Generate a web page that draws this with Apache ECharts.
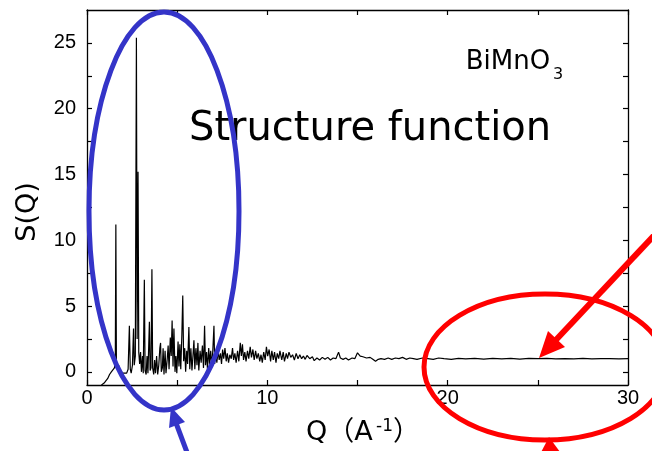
<!DOCTYPE html>
<html>
<head>
<meta charset="utf-8">
<script src="https://cdn.jsdelivr.net/npm/echarts@6/dist/echarts.min.js"></script>
<style>
html,body{margin:0;padding:0;background:#fff;}
#chart{width:652px;height:451px;}
</style>
</head>
<body>
<div id="chart"></div>
<script>
// Q values (A^-1)
var qValues = [0.80,0.95,1.05,1.15,1.25,1.35,1.45,1.52,1.57,1.60,1.63,1.68,1.75,1.82,1.90,2.00,2.10,2.20,2.28,2.35,2.40,2.45,2.52,2.58,2.62,2.68,2.74,2.78,2.83,2.87,2.92,2.97,3.02,3.08,3.12,3.18,3.22,3.28,3.33,3.38,3.46,3.50,3.55,3.60,3.64,3.70,3.75,3.80,3.86,3.92,3.98,4.04,4.08,4.12,4.18,4.22,4.27,4.33,4.38,4.45,4.50,4.55,4.62,4.67,4.72,4.77,4.82,4.88,4.93,4.98,5.05,5.10,5.15,5.20,5.26,5.31,5.36,5.42,5.47,5.53,5.58,5.65,5.70,5.76,5.82,5.88,5.93,5.98,6.04,6.10,6.15,6.20,6.27,6.33,6.40,6.46,6.52,6.57,6.63,6.68,6.75,6.80,6.86,6.92,6.98,7.04,7.08,7.14,7.20,7.27,7.33,7.40,7.46,7.52,7.58,7.65,7.72,7.78,7.85,7.92,8.00,8.07,8.13,8.20,8.27,8.35,8.42,8.50,8.56,8.62,8.68,8.75,8.82,8.90,8.97,9.05,9.12,9.20,9.27,9.35,9.42,9.50,9.58,9.65,9.72,9.80,9.88,9.95,10.02,10.10,10.18,10.25,10.33,10.40,10.48,10.55,10.63,10.70,10.80,10.88,10.95,11.05,11.12,11.20,11.30,11.40,11.50,11.60,11.70,11.80,11.90,12.00,12.10,12.20,12.35,12.50,12.60,12.75,12.90,13.05,13.20,13.35,13.50,13.65,13.80,13.95,14.05,14.20,14.35,14.50,14.70,14.85,15.00,15.15,15.30,15.50,15.70,15.85,16.00,16.15,16.30,16.50,16.70,16.90,17.10,17.30,17.50,17.70,17.90,18.10,18.30,18.60,18.90,19.20,19.50,19.80,20.20,20.60,21.00,21.50,22.00,22.50,23.00,23.50,24.00,24.50,25.00,25.50,26.00,26.50,27.00,27.50,28.00,28.50,29.00,29.50,30.00];
// S(Q) values
var sValues = [-1.0,-0.85,-0.7,-0.5,-0.2,0.0,0.1,0.3,0.8,11.2,0.8,0.3,0.5,0.1,0.0,-0.1,0.0,-0.1,0.2,3.5,0.2,-0.1,0.5,3.3,0.5,1.2,25.4,2.5,15.2,1.5,0.6,1.5,0.0,1.2,-0.1,7.0,0.1,-0.2,1.2,-0.1,3.8,0.1,0.3,7.8,0.3,-0.2,0.9,-0.1,1.2,-0.2,0.5,1.8,2.2,0.0,0.3,1.8,-0.2,1.6,-0.1,1.0,2.0,0.2,2.6,1.2,3.9,0.4,3.3,0.0,1.2,-0.1,2.3,0.4,2.1,0.2,2.8,5.8,0.8,1.8,0.0,1.6,0.6,3.4,0.2,1.8,0.1,1.3,2.4,0.2,1.8,0.5,2.2,0.1,1.6,0.7,2.0,0.3,3.5,0.5,1.5,0.2,1.8,0.6,1.6,0.4,1.7,3.5,0.6,1.5,0.7,1.6,0.9,1.4,0.6,1.7,1.0,1.8,0.8,1.4,0.7,1.3,1.0,1.8,0.9,1.4,0.7,1.6,0.8,2.2,1.2,2.1,0.9,1.5,0.8,1.6,1.0,1.9,1.1,1.7,0.9,1.6,1.0,1.4,0.8,1.3,0.7,1.5,0.9,1.9,1.2,1.7,0.8,1.6,0.9,1.5,0.7,1.4,1.0,1.6,0.9,1.5,0.8,1.4,1.0,1.5,1.1,1.3,0.9,1.4,1.0,1.3,1.0,1.2,0.95,1.25,1.0,1.15,0.85,1.05,0.9,1.1,0.95,1.1,0.9,1.05,1.0,1.5,1.05,0.95,1.05,0.9,1.05,1.0,1.45,1.2,1.15,1.05,1.1,0.95,0.8,0.95,1.0,0.95,1.05,0.95,1.05,1.0,1.1,0.95,1.05,1.0,0.95,1.05,1.0,0.95,1.05,1.0,0.95,1.02,0.98,1.03,0.96,1.02,0.98,1.02,0.97,1.02,1.0,1.03,0.98,1.01,0.99,1.02,0.98,1.01,1.0,0.99,1.0];
var xMajorTicks = [0,10,20,30];
var xAllTicks = [0,5,10,15,20,25,30];
var yMajorTicks = [0,5,10,15,20,25];
var yAllTicks = [0,2.5,5,7.5,10,12.5,15,17.5,20,22.5,25];

var seriesData = qValues.map(function(q,i){return [q, sValues[i]];});

var chart = echarts.init(document.getElementById('chart'), null, {renderer:'canvas'});
var lineStyle = {color:'#000', width:1.3};
var tickStyle = {inside:true, length:5, lineStyle:{color:'#000', width:1.2}};
var labelFont = {fontFamily:'"Liberation Sans", Arial, sans-serif', fontSize:20, color:'#000'};

function xAx(pos, showLabel){
  return {
    type:'value', position:pos, min:0, max:30, gridIndex:0,
    axisLine:{show:true, onZero:false, lineStyle:lineStyle},
    axisTick:Object.assign({show:true, customValues:xAllTicks}, tickStyle),
    axisLabel:Object.assign({show:showLabel, customValues:xMajorTicks, margin:3}, labelFont),
    splitLine:{show:false}
  };
}
function yAx(pos, showLabel){
  return {
    type:'value', position:pos, min:-1, max:27.5, gridIndex:0,
    axisLine:{show:true, onZero:false, lineStyle:lineStyle},
    axisTick:Object.assign({show:true, customValues:yAllTicks}, tickStyle),
    axisLabel:Object.assign({show:showLabel, customValues:yMajorTicks, margin:11}, labelFont),
    splitLine:{show:false}
  };
}

var blue = '#3434c8';
var red = '#ff0000';
var titleFont = '"DejaVu Sans", "Noto Sans CJK JP", sans-serif';

chart.setOption({
  animation:false,
  backgroundColor:'#fff',
  grid:{left:87, right:24, top:10, bottom:66},
  xAxis:[xAx('bottom', true), xAx('top', false)],
  yAxis:[yAx('left', true), yAx('right', false)],
  series:[{
    type:'line', xAxisIndex:0, yAxisIndex:0, data:seriesData,
    showSymbol:false, symbol:'none', sampling:null,
    lineStyle:{color:'#000', width:1.2}, silent:true
  }],
  graphic:[
    {type:'text', left:189, top:110, z:50, style:{text:'Structure function', font:'40px ' + titleFont, fill:'#000'}},
    {type:'text', x:508, y:62, z:50, style:{text:'BiMnO', font:'26px ' + titleFont, fill:'#000', align:'center', verticalAlign:'middle'}},
    {type:'text', x:553, y:75, z:50, style:{text:'3', font:'16px ' + titleFont, fill:'#000', align:'left', verticalAlign:'middle'}},
    {type:'text', x:28, y:212, rotation:Math.PI/2, z:50, style:{text:'S(Q)', font:'27px ' + titleFont, fill:'#000', align:'center', verticalAlign:'middle'}},
    {type:'text', x:306, y:433, z:50, style:{text:'Q（A', font:'27px ' + titleFont, fill:'#000', align:'left', verticalAlign:'middle'}},
    {type:'text', x:376, y:427, z:50, style:{text:'-1', font:'17px ' + titleFont, fill:'#000', align:'left', verticalAlign:'middle'}},
    {type:'text', x:393, y:433, z:50, style:{text:'）', font:'27px ' + titleFont, fill:'#000', align:'left', verticalAlign:'middle'}},
    // blue annotation
    {type:'ellipse', z:60, shape:{cx:164, cy:211, rx:75, ry:199}, style:{fill:null, stroke:blue, lineWidth:5}},
    {type:'line', z:60, shape:{x1:188, y1:455, x2:176, y2:423}, style:{stroke:blue, lineWidth:5}},
    {type:'polygon', z:60, shape:{points:[[171,407],[185,422],[169,428]]}, style:{fill:blue}},
    // red annotation
    {type:'ellipse', z:60, shape:{cx:545, cy:367, rx:121, ry:73}, style:{fill:null, stroke:red, lineWidth:5}},
    {type:'line', z:60, shape:{x1:660, y1:229, x2:554, y2:342}, style:{stroke:red, lineWidth:6}},
    {type:'polygon', z:60, shape:{points:[[539,358],[548,331],[565,347]]}, style:{fill:red}},
    {type:'polygon', z:60, shape:{points:[[549,437],[537,460],[563,456]]}, style:{fill:red}}
  ]
});
</script>
</body>
</html>
